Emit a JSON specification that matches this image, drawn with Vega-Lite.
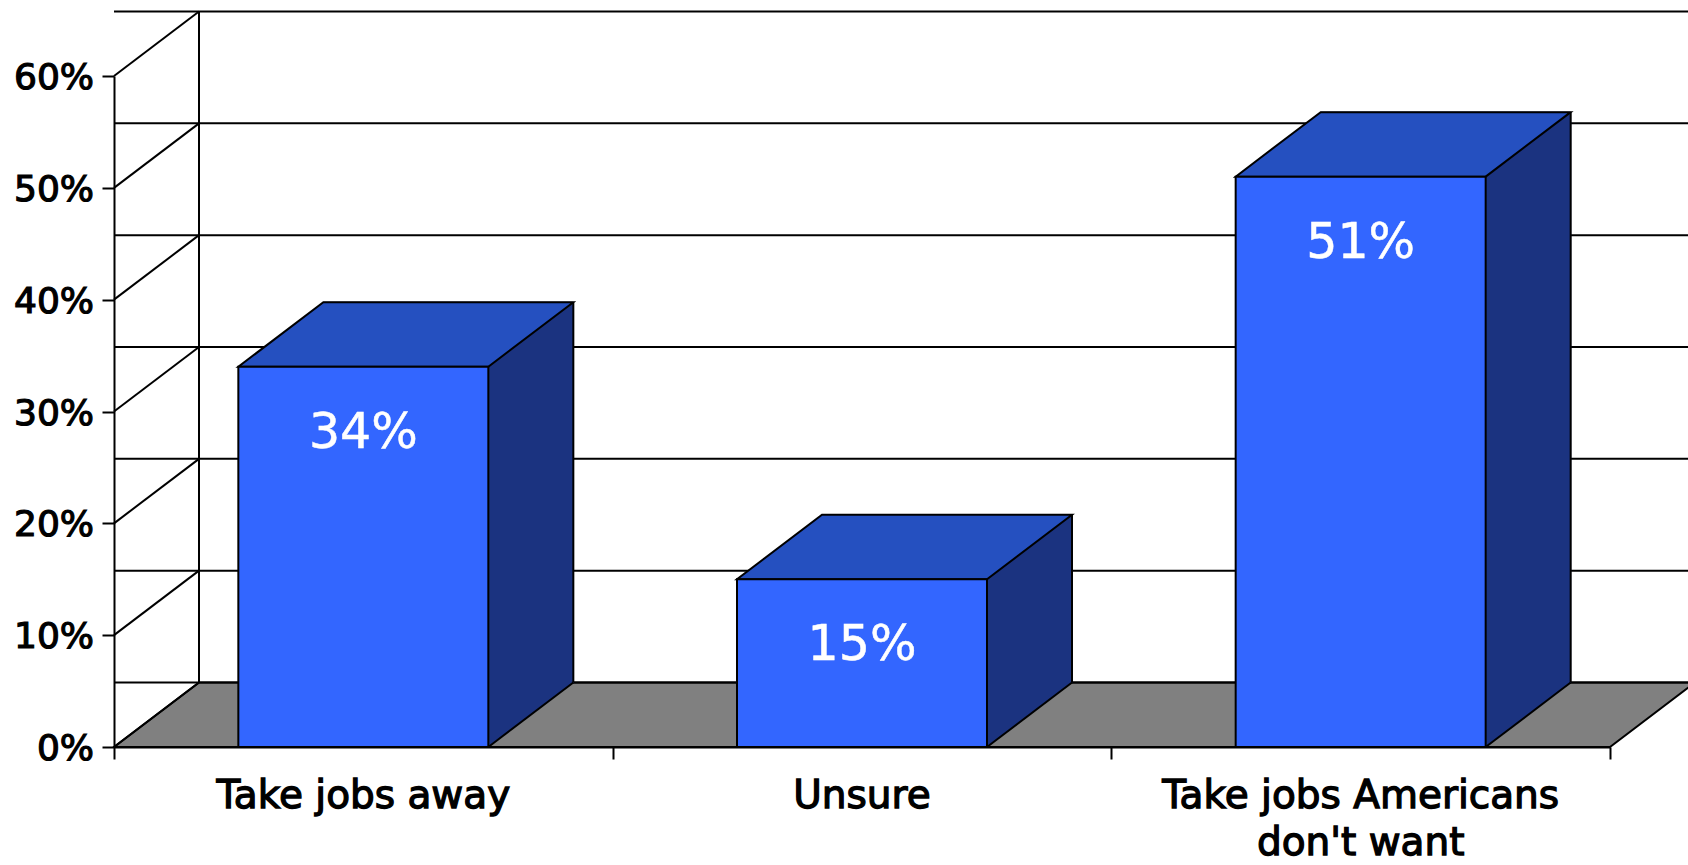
{
  "$schema": "https://vega.github.io/schema/vega-lite/v6.json",
  "autosize": "none",
  "padding": {"left": 114, "top": 76, "right": 78, "bottom": 118},
  "width": 1496,
  "height": 671,
  "background": "white",
  "config": {"view": {"stroke": null}, "font": "DejaVu Sans"},
  "datasets": {
    "bars": [
      {"category": "Take jobs away", "value": 0.34},
      {"category": "Unsure", "value": 0.15},
      {"category": "Take jobs Americans don't want", "value": 0.51}
    ],
    "grid": [{"v": 0}, {"v": 0.1}, {"v": 0.2}, {"v": 0.3}, {"v": 0.4}, {"v": 0.5}, {"v": 0.6}]
  },
  "data": {"name": "bars"},
  "encoding": {
    "x": {
      "field": "category", "type": "nominal", "sort": null,
      "scale": {"paddingInner": 0, "paddingOuter": 0},
      "axis": {
        "title": null, "labels": false, "tickBand": "extent",
        "tickSize": 12, "tickWidth": 2, "tickColor": "black", "domainColor": "black", "domainWidth": 2
      }
    },
    "y": {
      "field": "value", "type": "quantitative",
      "scale": {"domain": [0, 0.6], "nice": false},
      "axis": {
        "title": null, "labels": false, "values": [0, 0.1, 0.2, 0.3, 0.4, 0.5, 0.6], "grid": false,
        "tickSize": 12, "tickWidth": 2, "tickColor": "black", "domainColor": "black", "domainWidth": 2
      }
    }
  },
  "layer": [
    {
      "data": {"name": "grid"},
      "transform": [{"filter": "datum.v == 0"}],
      "mark": {"type": "point", "shape": "M0,0 L1496,0 L1581,-64.5 L85,-64.5 Z", "size": 4, "filled": true, "fill": "#808080", "stroke": "black", "strokeWidth": 2, "opacity": 1},
      "encoding": {"x": {"value": 0}, "y": {"field": "v", "type": "quantitative"}}
    },
    {
      "data": {"name": "grid"},
      "mark": {"type": "rule", "xOffset": 85, "yOffset": -64.5, "color": "black", "strokeWidth": 2},
      "encoding": {"x": null, "y": {"field": "v", "type": "quantitative"}}
    },
    {
      "data": {"name": "grid"},
      "transform": [{"filter": "datum.v == 0"}],
      "mark": {"type": "rule", "xOffset": 85, "yOffset": -64.5, "y2Offset": -64.5, "color": "black", "strokeWidth": 2},
      "encoding": {"x": {"value": 0}, "y": {"field": "v", "type": "quantitative"}, "y2": {"datum": 0.6}}
    },
    {
      "data": {"name": "grid"},
      "mark": {"type": "point", "shape": "M0,0 L85,-64.5", "size": 4, "filled": false, "stroke": "black", "strokeWidth": 2, "opacity": 1},
      "encoding": {"x": {"value": 0}, "y": {"field": "v", "type": "quantitative"}}
    },
    {
      "data": {"name": "grid"},
      "mark": {"type": "text", "align": "right", "baseline": "middle", "dx": -20, "dy": 2, "fontSize": 36, "font": "DejaVu Sans", "fill": "black", "stroke": "black", "strokeWidth": 1.2},
      "encoding": {"x": {"value": 0}, "y": {"field": "v", "type": "quantitative"}, "text": {"field": "v", "type": "quantitative", "format": ".0%"}}
    },
    {
      "mark": {"type": "bar", "width": 250, "xOffset": 85, "yOffset": -64.5, "fill": "#1B3380", "stroke": "#1B3380", "strokeWidth": 1, "opacity": 1}
    },
    {
      "mark": {"type": "point", "shape": "M125,0 L210,-64.5 L125,-64.5 Z", "size": 4, "filled": true, "fill": "#1B3380", "stroke": "#1B3380", "strokeWidth": 1, "opacity": 1},
      "encoding": {"y": {"datum": 0}}
    },
    {
      "mark": {"type": "rule", "xOffset": 210, "yOffset": -64.5, "y2Offset": -64.5, "color": "black", "strokeWidth": 2},
      "encoding": {"y2": {"datum": 0}}
    },
    {
      "mark": {"type": "point", "shape": "M125,0 L210,-64.5", "size": 4, "filled": false, "stroke": "black", "strokeWidth": 2, "opacity": 1},
      "encoding": {"y": {"datum": 0}}
    },
    {
      "mark": {"type": "point", "shape": "M-125,0 L125,0 L210,-64.5 L-40,-64.5 Z", "size": 4, "filled": true, "fill": "#2550C0", "stroke": "black", "strokeWidth": 2, "opacity": 1}
    },
    {
      "mark": {"type": "bar", "width": 250, "fill": "#3366FF", "stroke": "black", "strokeWidth": 2, "opacity": 1}
    },
    {
      "mark": {"type": "text", "dy": 81, "baseline": "alphabetic", "align": "center", "fill": "white", "stroke": "white", "strokeWidth": 0.5, "fontSize": 49, "font": "DejaVu Sans"},
      "encoding": {"text": {"field": "value", "type": "quantitative", "format": ".0%"}}
    },
    {
      "mark": {"type": "text", "dy": 61, "baseline": "alphabetic", "align": "center", "fill": "black", "stroke": "black", "strokeWidth": 1.3, "fontSize": 39, "font": "DejaVu Sans", "lineHeight": 47},
      "encoding": {
        "y": {"datum": 0},
        "text": {"condition": {"test": "indexof(datum.category, 'Americans') >= 0", "value": ["Take jobs Americans", "don't want"]}, "field": "category", "type": "nominal"}
      }
    }
  ]
}
